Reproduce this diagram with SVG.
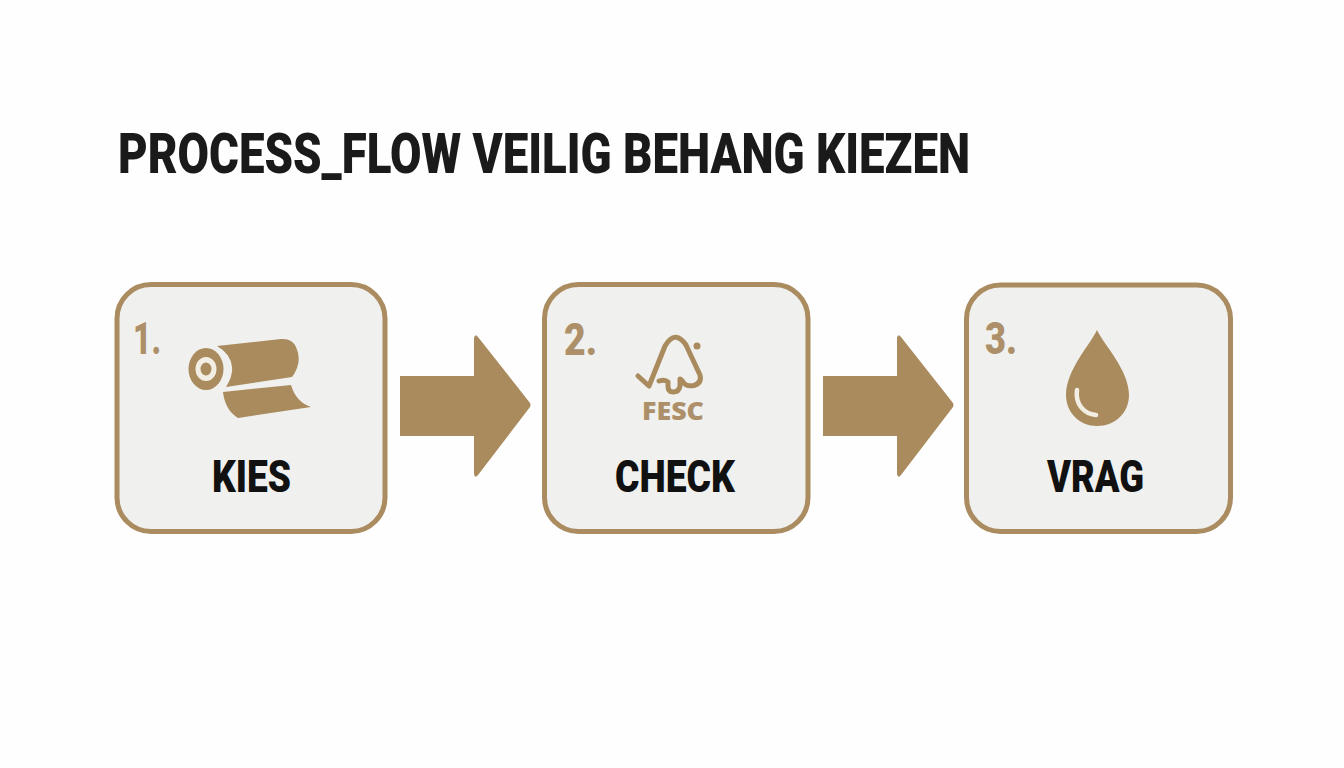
<svg xmlns="http://www.w3.org/2000/svg" width="1344" height="768" viewBox="0 0 1344 768">
<style>
.box{fill:#f0f0ef;stroke:#aa8c60;stroke-width:5}
.gold{fill:#aa8b5d}
.num{font-family:"Roboto","Liberation Sans",sans-serif;font-weight:900;font-size:45px;fill:#ad9069}
.lab{font-family:"Roboto","Liberation Sans",sans-serif;font-weight:900;font-size:45px;fill:#111;text-anchor:middle}
.title{font-family:"Roboto","Liberation Sans",sans-serif;font-weight:900;font-size:55px;fill:#1a1a1a}
</style>
<rect width="1344" height="768" fill="#fefefe"/>
<text class="title" x="118" y="173" textLength="852" lengthAdjust="spacingAndGlyphs">PROCESS_FLOW VEILIG BEHANG KIEZEN</text>
<g id="connectors">
<path id="arrow-1" class="gold" d="M400 376H474V338Q475 333 478 337L530 403Q531 405 530 407L478 475Q475 479 474 474V436H400Z"/>
<path id="arrow-2" class="gold" d="M823 376H897V338Q898 333 901 337L953 403Q954 405 953 407L901 475Q898 479 897 474V436H823Z"/>
</g>
<g id="node-1">
<rect class="box" x="117" y="284.500" width="268" height="247" rx="34"/>
<text class="num" x="133" y="354" textLength="28" lengthAdjust="spacingAndGlyphs">1.</text>
<path class="gold" d="M217 346L281 339Q292 338 296 347Q303 362 292 377L226 387Q233 376 232 367Q231 354 217 346Z"/>
<path class="gold" d="M223 392L291 385Q296 402 311 407L238 418Q225 410 223 392Z"/>
<ellipse class="gold" cx="206" cy="369" rx="17.500" ry="21"/>
<ellipse cx="206" cy="369" rx="10.500" ry="12" fill="#f3eee4"/>
<ellipse class="gold" cx="206" cy="369" rx="5.500" ry="6.500"/>
<text class="lab" x="251.500" y="492" textLength="79" lengthAdjust="spacingAndGlyphs">KIES</text>
</g>
<g id="node-2">
<rect class="box" x="544.500" y="284.500" width="263.500" height="247" rx="34"/>
<text class="num" x="564" y="355" textLength="33" lengthAdjust="spacingAndGlyphs">2.</text>
<path d="M638 376L649 386L665 346Q675 329 686 345L700 375Q702 383 694 385.500Q686 387 683 382Q681 379 680 379V386Q679 392 673 392Q668 392 668 386V382Q665 379 659 381" fill="none" stroke="#aa8b5d" stroke-width="5" stroke-linecap="round" stroke-linejoin="round"/>
<circle class="gold" cx="697" cy="346" r="3.500"/>
<text x="673" y="420" text-anchor="middle" textLength="62" lengthAdjust="spacingAndGlyphs" font-family="Open Sans, Liberation Sans, sans-serif" font-weight="800" font-size="24" fill="#ad9069">FESC</text>
<text class="lab" x="675" y="492" textLength="120" lengthAdjust="spacingAndGlyphs">CHECK</text>
</g>
<g id="node-3">
<rect class="box" x="966.500" y="285" width="264" height="246.500" rx="34"/>
<text class="num" x="985" y="354" textLength="32" lengthAdjust="spacingAndGlyphs">3.</text>
<path class="gold" d="M1097 330C1090 345 1066 370 1066 395C1066 413 1080 426 1097 426C1115 426 1129 413 1129 395C1129 370 1104 345 1097 330Z"/>
<path d="M1077 390C1075 404 1084 414 1096 415" fill="none" stroke="#f3eee4" stroke-width="4.500" stroke-linecap="round"/>
<text class="lab" x="1095.500" y="492" textLength="97" lengthAdjust="spacingAndGlyphs">VRAG</text>
</g>
</svg>
